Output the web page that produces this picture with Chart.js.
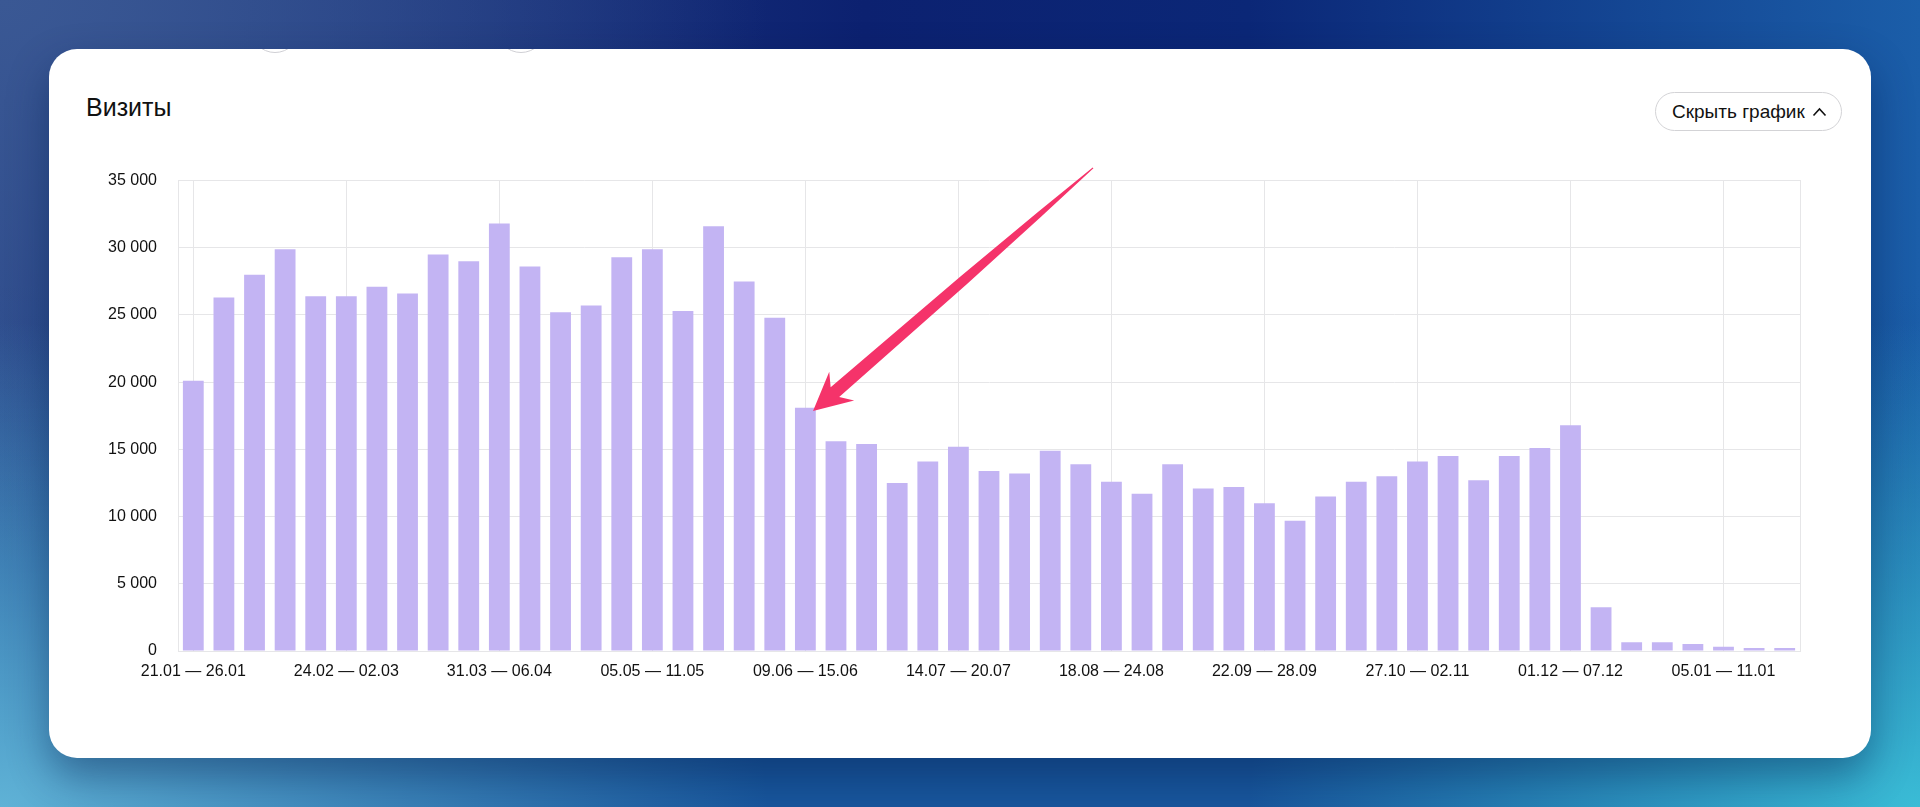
<!DOCTYPE html>
<html lang="ru">
<head>
<meta charset="utf-8">
<title>Визиты</title>
<script src="https://cdn.jsdelivr.net/npm/chart.js@4.4.1/dist/chart.umd.min.js"></script>
<style>
  html, body { margin: 0; padding: 0; }
  body {
    width: 1920px; height: 807px; overflow: hidden; position: relative;
    font-family: "Liberation Sans", Arial, sans-serif;
    background:
      radial-gradient(40% 60% at 0% 100%, rgba(95,178,214,1) 0%, rgba(95,178,214,0) 100%),
      radial-gradient(35% 60% at 100% 100%, rgba(58,188,214,1) 0%, rgba(58,188,214,0) 100%),
      radial-gradient(40% 70% at 0% 0%, rgba(58,88,148,1) 0%, rgba(58,88,148,0) 100%),
      linear-gradient(180deg, rgba(24,86,156,0) 35%, rgba(24,86,156,1) 92%),
      linear-gradient(90deg, #2a4789 0%, #0c2170 45%, #0b2777 65%, #1b5ea9 100%);
  }
  .card {
    position: absolute; left: 49px; top: 49px; width: 1822px; height: 709px;
    background: #fff; border-radius: 28px; overflow: hidden;
    box-shadow: 0 18px 40px rgba(5, 30, 80, 0.45);
  }
  .ring {
    position: absolute; top: -46px; width: 48px; height: 48px;
    border: 1.5px solid #cfcfd4; border-radius: 50%;
  }
  .title {
    position: absolute; left: 37px; top: 46px;
    font-size: 25px; line-height: 1; color: #111; font-weight: 500;
  }
  .btn {
    position: absolute; left: 1606px; top: 43px; width: 185px; height: 37px;
    border: 1px solid #d3d3d6; border-radius: 20px; box-sizing: content-box;
    font-size: 19px; color: #111; display: flex; align-items: center;
  }
  .btn span { margin-left: 16px; }
  .btn svg { margin-left: 7px; }
  .wrap { position: absolute; left: 31px; top: 101px; width: 1740px; height: 550px; }
</style>
</head>
<body>
<div class="card">
  <div class="ring" style="left: 201px"></div>
  <div class="ring" style="left: 447px"></div>
  <div class="title">Визиты</div>
  <div class="btn"><span>Скрыть график</span>
    <svg width="15" height="10" viewBox="0 0 15 10"><polyline points="1.5,8.5 7.5,2 13.5,8.5" fill="none" stroke="#111" stroke-width="1.6"/></svg>
  </div>
  <div class="wrap"><canvas id="visits-chart"></canvas></div>
</div>
<script>
// weekly ranges on the x axis
const weeks = [
  '21.01 — 26.01', '27.01 — 02.02', '03.02 — 09.02', '10.02 — 16.02', '17.02 — 23.02',
  '24.02 — 02.03', '03.03 — 09.03', '10.03 — 16.03', '17.03 — 23.03', '24.03 — 30.03',
  '31.03 — 06.04', '07.04 — 13.04', '14.04 — 20.04', '21.04 — 27.04', '28.04 — 04.05',
  '05.05 — 11.05', '12.05 — 18.05', '19.05 — 25.05', '26.05 — 01.06', '02.06 — 08.06',
  '09.06 — 15.06', '16.06 — 22.06', '23.06 — 29.06', '30.06 — 06.07', '07.07 — 13.07',
  '14.07 — 20.07', '21.07 — 27.07', '28.07 — 03.08', '04.08 — 10.08', '11.08 — 17.08',
  '18.08 — 24.08', '25.08 — 31.08', '01.09 — 07.09', '08.09 — 14.09', '15.09 — 21.09',
  '22.09 — 28.09', '29.09 — 05.10', '06.10 — 12.10', '13.10 — 19.10', '20.10 — 26.10',
  '27.10 — 02.11', '03.11 — 09.11', '10.11 — 16.11', '17.11 — 23.11', '24.11 — 30.11',
  '01.12 — 07.12', '08.12 — 14.12', '15.12 — 21.12', '22.12 — 28.12', '29.12 — 04.01',
  '05.01 — 11.01', '12.01 — 18.01', '19.01 — 25.01'
];

// visits per week
const visits = [
  20100, 26300, 28000, 29900, 26400, 26400, 27100, 26600, 29500, 29000,
  31800, 28600, 25200, 25700, 29300, 29900, 25300, 31600, 27500, 24800,
  18100, 15600, 15400, 12500, 14100, 15200, 13400, 13200, 14900, 13900,
  12600, 11700, 13900, 12100, 12200, 11000, 9700, 11500, 12600, 13000,
  14100, 14500, 12700, 14500, 15100, 16800, 3250, 650, 650, 520,
  320, 220, 220
];

const yTicks = [0, 5000, 10000, 15000, 20000, 25000, 30000, 35000];

// arrow annotation: [category index, value]
const arrowTail = [29.4, 35950];
const arrowTip = [20.25, 17850];

const gridColor = '#e6e6e8';
const barColor = '#c3b4f3';

Chart.defaults.font.family = '"Liberation Sans", Arial, sans-serif';
Chart.defaults.font.size = 16;
Chart.defaults.color = '#111';

const fmt = v => String(v).replace(/\B(?=(\d{3})+(?!\d))/g, '\u00a0');

// draws the pink pointer over the bars
const arrowPlugin = {
    id: 'arrow',
    afterDatasetsDraw(chart) {
        const { ctx, scales: { x, y } } = chart;
        const tx = x.getPixelForValue(arrowTip[0]), ty = y.getPixelForValue(arrowTip[1]);
        const sx = x.getPixelForValue(arrowTail[0]), sy = y.getPixelForValue(arrowTail[1]);
        const len = Math.hypot(sx - tx, sy - ty);
        const ux = (sx - tx) / len, uy = (sy - ty) / len;
        const nx = -uy, ny = ux;
        // outline along the arrow (distance from tip, half width)
        const shape = [
            [0, 0], [38, -19], [29, -6.5], [200, -5], [300, -2.8], [len, -0.6],
            [len, 0.6], [300, 2.8], [200, 5], [29, 6.5], [38, 19]
        ];
        ctx.save();
        ctx.beginPath();
        shape.forEach(([a, b], i) => {
            const px = tx + ux * a + nx * b, py = ty + uy * a + ny * b;
            if (i) ctx.lineTo(px, py); else ctx.moveTo(px, py);
        });
        ctx.closePath();
        ctx.fillStyle = '#f5336a';
        ctx.fill();
        ctx.restore();
    }
};

const ctx = document.getElementById('visits-chart');

new Chart(ctx, {
    type: 'bar',
    data: {
        labels: weeks,
        datasets: [{
            label: 'Визиты',
            data: visits,
            backgroundColor: barColor,
            barPercentage: 0.68,
            categoryPercentage: 1
        }]
    },
    options: {
        responsive: true,
        maintainAspectRatio: false,
        animation: false,
        layout: { padding: { top: 22, right: 20, left: 0, bottom: 0 } },
        plugins: { legend: { display: false }, tooltip: { enabled: false } },
        scales: {
            x: {
                grid: {
                    offset: false,
                    drawTicks: false,
                    color: c => (c.index % 5 === 0 ? gridColor : 'rgba(0,0,0,0)')
                },
                border: { color: gridColor },
                ticks: {
                    autoSkip: false,
                    maxRotation: 0,
                    padding: 11,
                    callback: (v, i) => (i % 5 === 0 ? weeks[i] : '')
                },
                afterFit: s => { s.height = 49; }
            },
            y: {
                min: 0,
                max: 35000,
                afterBuildTicks: s => { s.ticks = yTicks.map(v => ({ value: v })); },
                grid: { color: gridColor, drawTicks: false },
                border: { color: gridColor },
                ticks: { padding: 21, callback: v => fmt(v) },
                afterFit: s => { s.width = 98; }
            },
            y2: {
                position: 'right',
                min: 0,
                max: 35000,
                grid: { drawOnChartArea: false, drawTicks: false },
                border: { color: gridColor },
                ticks: { display: false },
                afterFit: s => { s.width = 0; }
            }
        }
    },
    plugins: [arrowPlugin]
});
</script>
</body>
</html>
